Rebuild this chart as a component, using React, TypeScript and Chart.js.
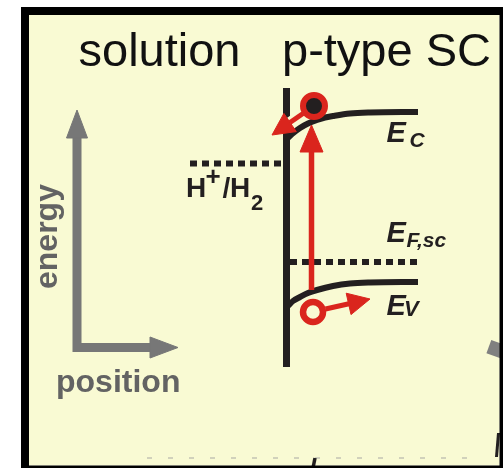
import React, { useEffect, useRef } from "react";
import { Chart, registerables } from "chart.js";

Chart.register(...registerables);

// Schematic coordinate system: x = position, y = energy (arbitrary units)
const X_RANGE = [0, 503];
const Y_RANGE = [0, 468];

// Semiconductor surface (interface with solution)
const interfaceX = [286.5, 286.5];
const interfaceY = [380, 101];

// Conduction band edge E_C (band bending at the surface)
const ecX = [287, 292, 300, 308, 317, 325, 333, 350, 370, 418];
const ecY = [329, 334, 340, 344.5, 348, 350.5, 352, 354.5, 355.5, 356];

// Valence band edge E_V
const evX = [288, 293, 300, 308, 317, 333, 350, 370, 418];
const evY = [162, 167, 171, 175, 178, 182, 184.5, 185.5, 186];

// Fermi level of the semiconductor
const efX = [290, 418];
const efY = [206, 206];

// H+/H2 redox level in solution
const redoxX = [190, 284];
const redoxY = [304.5, 304.5];

// Excitation arrow (photon absorption)
const exciteShaftX = [311.5, 311.5];
const exciteShaftY = [178, 318];
const exciteHeadX = [300, 311.5, 323, 300];
const exciteHeadY = [316, 343, 316, 316];

// Electron and its transfer arrow
const electronX = [314];
const electronY = [362];
const eShaftX = [303, 290];
const eShaftY = [354.5, 345.5];
const eHeadX = [283.9, 272, 296.3, 283.9];
const eHeadY = [354.6, 333, 336.4, 354.6];

// Hole and its drift arrow
const holeX = [313];
const holeY = [156];
const hShaftX = [325.5, 349];
const hShaftY = [159, 164.2];
const hHeadX = [346.2, 370, 351, 346.2];
const hHeadY = [174.8, 169, 153.4, 174.8];

// Axis legend arrows (energy / position)
const axisX = [77, 77, 150];
const axisY = [331, 120.5, 120.5];
const upHeadX = [66.5, 77, 87.5, 66.5];
const upHeadY = [330, 358, 330, 330];
const rightHeadX = [150, 178, 150, 150];
const rightHeadY = [131, 120.5, 110, 131];

// Fragments of neighbouring panels
const bottomDashX = [147, 467];
const bottomDashY = [10, 10];
const bottomMarkX = [315, 313];
const bottomMarkY = [10, 0];
const rightMarkX = [498.5, 496.5];
const rightMarkY = [35, 11];
const greySquareX = [495.5];
const greySquareY = [119];

// Frame
const frameOuterX = [21, 503];
const frameOuterY = [0, 461];
const frameInnerX = [29, 499.5];
const frameInnerY = [2.5, 453];

const FONT = '"Liberation Sans", Arial, Helvetica, sans-serif';
const BLACK = "#231f20";
const RED = "#da251d";
const GREY = "#777777";
const GREY_TEXT = "#636363";
const YELLOW = "#f9fad3";

type Label = {
  text: string;
  x: number;
  y: number;
  font: string;
  color: string;
  rotate?: number;
  align?: CanvasTextAlign;
};

const labels: Label[] = [
  { text: "solution", x: 78.5, y: 402, font: `47px ${FONT}`, color: "#111" },
  { text: "p-type SC", x: 282, y: 402, font: `47px ${FONT}`, color: "#111" },
  { text: "energy", x: 56.5, y: 231.5, font: `bold 32px ${FONT}`, color: GREY_TEXT, rotate: -90, align: "center" },
  { text: "position", x: 56, y: 76, font: `bold 32px ${FONT}`, color: GREY_TEXT },
  { text: "H", x: 186, y: 271, font: `bold 28px ${FONT}`, color: BLACK },
  { text: "+", x: 205.5, y: 283, font: `bold 26px ${FONT}`, color: BLACK },
  { text: "/", x: 222.5, y: 271, font: `bold 28px ${FONT}`, color: BLACK },
  { text: "H", x: 230, y: 271, font: `bold 28px ${FONT}`, color: BLACK },
  { text: "2", x: 251, y: 258, font: `bold 22px ${FONT}`, color: BLACK },
  { text: "E", x: 386.5, y: 326, font: `italic bold 29px ${FONT}`, color: BLACK },
  { text: "C", x: 409.5, y: 321, font: `italic bold 21px ${FONT}`, color: BLACK },
  { text: "E", x: 386.5, y: 226, font: `italic bold 29px ${FONT}`, color: BLACK },
  { text: "F,sc", x: 406.5, y: 221, font: `italic bold 21px ${FONT}`, color: BLACK },
  { text: "E", x: 386.5, y: 153, font: `italic bold 29px ${FONT}`, color: BLACK },
  { text: "V", x: 404, y: 152.5, font: `italic bold 22px ${FONT}`, color: BLACK },
];

const pts = (xs: number[], ys: number[]) => xs.map((x, i) => ({ x, y: ys[i] }));

const lineDs = (xs: number[], ys: number[], color: string, width: number, order: number, extra: any = {}) => ({
  type: "line",
  data: pts(xs, ys),
  borderColor: color,
  backgroundColor: color,
  borderWidth: width,
  pointRadius: 0,
  pointHoverRadius: 0,
  fill: false,
  tension: 0,
  order,
  ...extra,
});

const shapeDs = (xs: number[], ys: number[], color: string, order: number, extra: any = {}) =>
  lineDs(xs, ys, color, 1, order, { fill: "shape", borderJoinStyle: "miter", ...extra });

const pointDs = (xs: number[], ys: number[], fillColor: string, border: string, radius: number, bw: number, order: number, extra: any = {}) => ({
  type: "line",
  data: pts(xs, ys),
  showLine: false,
  pointRadius: radius,
  pointHoverRadius: radius,
  pointBackgroundColor: fillColor,
  pointBorderColor: border,
  pointBorderWidth: bw,
  pointHoverBorderWidth: bw,
  order,
  ...extra,
});

const framePlugin = {
  id: "framePlugin",
  beforeDraw(chart: any) {
    const { ctx } = chart;
    const sx = chart.scales.x;
    const sy = chart.scales.y;
    ctx.save();
    ctx.fillStyle = "#ffffff";
    ctx.fillRect(0, 0, chart.width, chart.height);
    const l = sx.getPixelForValue(frameInnerX[0]);
    const r = sx.getPixelForValue(frameInnerX[1]);
    const t = sy.getPixelForValue(frameInnerY[1]);
    const b = sy.getPixelForValue(frameInnerY[0]);
    ctx.fillStyle = YELLOW;
    ctx.fillRect(l, t, r - l, b - t);
    ctx.restore();
  },
  afterDatasetsDraw(chart: any) {
    const { ctx } = chart;
    const sx = chart.scales.x;
    const sy = chart.scales.y;
    ctx.save();
    const ol = sx.getPixelForValue(frameOuterX[0]);
    const or = sx.getPixelForValue(frameOuterX[1]);
    const ot = sy.getPixelForValue(frameOuterY[1]);
    const ob = sy.getPixelForValue(frameOuterY[0]);
    const il = sx.getPixelForValue(frameInnerX[0]);
    const ir = sx.getPixelForValue(frameInnerX[1]);
    const it = sy.getPixelForValue(frameInnerY[1]);
    const ib = sy.getPixelForValue(frameInnerY[0]);
    ctx.beginPath();
    ctx.rect(ol, ot, or - ol, ob - ot);
    ctx.rect(il, it, ir - il, ib - it);
    ctx.fillStyle = "#000000";
    ctx.fill("evenodd");

    for (const lb of labels) {
      const px = sx.getPixelForValue(lb.x);
      const py = sy.getPixelForValue(lb.y);
      ctx.save();
      ctx.translate(px, py);
      if (lb.rotate) ctx.rotate((lb.rotate * Math.PI) / 180);
      ctx.font = lb.font;
      ctx.fillStyle = lb.color;
      ctx.textAlign = lb.align || "left";
      ctx.textBaseline = "alphabetic";
      ctx.fillText(lb.text, 0, 0);
      ctx.restore();
    }
    ctx.restore();
  },
};

export default function App() {
  const ref = useRef<HTMLCanvasElement>(null);

  useEffect(() => {
    if (!ref.current) return;
    const datasets: any[] = [
      // fragments of neighbouring panels (back)
      lineDs(bottomDashX, bottomDashY, "#c4c4b4", 1.5, 30, { borderDash: [5, 16] }),
      lineDs(bottomMarkX, bottomMarkY, BLACK, 3.5, 29),
      lineDs(rightMarkX, rightMarkY, BLACK, 3, 29),
      pointDs(greySquareX, greySquareY, "#808080", "#808080", 10, 0, 29, { pointStyle: "rect", rotation: 20 }),
      // axis legend
      lineDs(axisX, axisY, GREY, 9, 28, { borderJoinStyle: "miter" }),
      shapeDs(upHeadX, upHeadY, GREY, 27),
      shapeDs(rightHeadX, rightHeadY, GREY, 27),
      // levels
      lineDs(redoxX, redoxY, BLACK, 6, 26, { borderDash: [7, 5] }),
      lineDs(efX, efY, BLACK, 6, 26, { borderDash: [7, 5] }),
      // bands
      lineDs(ecX, ecY, BLACK, 6, 25, { cubicInterpolationMode: "monotone" }),
      lineDs(evX, evY, BLACK, 6, 25, { cubicInterpolationMode: "monotone" }),
      lineDs(interfaceX, interfaceY, BLACK, 7, 24),
      // excitation arrow
      lineDs(exciteShaftX, exciteShaftY, RED, 5.5, 20),
      shapeDs(exciteHeadX, exciteHeadY, RED, 19),
      // electron transfer arrow
      lineDs(eShaftX, eShaftY, YELLOW, 11, 18),
      lineDs(eShaftX, eShaftY, RED, 5, 17),
      shapeDs(eHeadX, eHeadY, RED, 16),
      // hole drift arrow
      lineDs(hShaftX, hShaftY, RED, 5, 15),
      shapeDs(hHeadX, hHeadY, RED, 14),
      // carriers
      pointDs(electronX, electronY, BLACK, RED, 11, 6, 10),
      pointDs(holeX, holeY, YELLOW, RED, 10, 6.5, 10),
    ];

    const chart = new Chart(ref.current, {
      type: "line",
      data: { datasets },
      options: {
        animation: false,
        responsive: false,
        devicePixelRatio: 1,
        events: [],
        layout: { padding: 0, autoPadding: false },
        plugins: {
          legend: { display: false },
          title: { display: false },
          tooltip: { enabled: false },
        },
        scales: {
          x: { type: "linear", min: X_RANGE[0], max: X_RANGE[1], display: false },
          y: { type: "linear", min: Y_RANGE[0], max: Y_RANGE[1], display: false },
        },
      },
      plugins: [framePlugin],
    } as any);
    return () => chart.destroy();
  }, []);

  return (
    <div style={{ position: "absolute", left: 0, top: 0, width: 503, height: 468 }}>
      <canvas ref={ref} width={503} height={468} style={{ display: "block" }} />
    </div>
  );
}
